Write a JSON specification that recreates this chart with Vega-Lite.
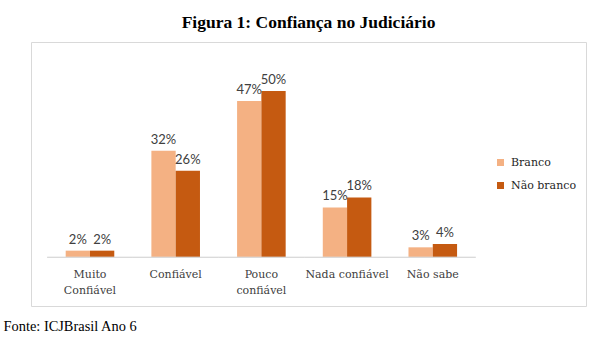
{
  "$schema": "https://vega.github.io/schema/vega-lite/v6.json",
  "autosize": {"type": "none"},
  "padding": {"left": 31, "top": 42, "right": 14, "bottom": 32},
  "width": 555,
  "height": 264,
  "background": "white",
  "config": {"view": {"stroke": "#d9d9d9", "strokeWidth": 1}},
  "title": {
    "text": "Figura 1: Confiança no Judiciário",
    "font": "Liberation Serif",
    "fontSize": 17.5,
    "fontWeight": "bold",
    "color": "#000000",
    "anchor": "middle",
    "offset": 11
  },
  "datasets": {
    "main": [
      {"categoria": "Muito Confiável", "grupo": "Branco", "valor": 0.02},
      {"categoria": "Muito Confiável", "grupo": "Não branco", "valor": 0.02},
      {"categoria": "Confiável", "grupo": "Branco", "valor": 0.32},
      {"categoria": "Confiável", "grupo": "Não branco", "valor": 0.26},
      {"categoria": "Pouco confiável", "grupo": "Branco", "valor": 0.47},
      {"categoria": "Pouco confiável", "grupo": "Não branco", "valor": 0.50},
      {"categoria": "Nada confiável", "grupo": "Branco", "valor": 0.15},
      {"categoria": "Nada confiável", "grupo": "Não branco", "valor": 0.18},
      {"categoria": "Não sabe", "grupo": "Branco", "valor": 0.03},
      {"categoria": "Não sabe", "grupo": "Não branco", "valor": 0.04}
    ],
    "cats": [
      {"categoria": "Muito Confiável"},
      {"categoria": "Confiável"},
      {"categoria": "Pouco confiável"},
      {"categoria": "Nada confiável"},
      {"categoria": "Não sabe"}
    ]
  },
  "layer": [
    {
      "data": {"name": "main"},
      "encoding": {
        "x": {
          "field": "categoria",
          "type": "nominal",
          "sort": null,
          "scale": {"paddingInner": 0.433, "paddingOuter": 0.9546, "align": 0.212},
          "axis": {
            "orient": "bottom",
            "offset": -48.7,
            "domain": false,
            "ticks": false,
            "labelAngle": 0,
            "labelFont": "DejaVu Serif",
            "labelFontSize": 11,
            "labelColor": "#404040",
            "labelPadding": 11,
            "labelLineHeight": 16,
            "labelExpr": "datum.value == 'Muito Confiável' ? ['Muito', 'Confiável'] : datum.value == 'Pouco confiável' ? ['Pouco', 'confiável'] : datum.value",
            "title": "Fonte: ICJBrasil Ano 6",
            "titleFont": "Liberation Serif",
            "titleFontSize": 14.4,
            "titleFontWeight": "normal",
            "titleColor": "#000000",
            "titleAnchor": null,
            "titleAlign": "left",
            "titleBaseline": "alphabetic",
            "titleX": -28,
            "titleY": 73.4
          }
        },
        "xOffset": {
          "field": "grupo",
          "type": "nominal",
          "scale": {"paddingInner": 0, "paddingOuter": 0}
        },
        "y": {
          "field": "valor",
          "type": "quantitative",
          "scale": {"domain": [-0.1464, 0.6473], "nice": false, "zero": false},
          "axis": null
        }
      },
      "layer": [
        {
          "mark": {"type": "bar"},
          "encoding": {
            "color": {
              "field": "grupo",
              "type": "nominal",
              "scale": {"domain": ["Branco", "Não branco"], "range": ["#F4B183", "#C55A11"]},
              "legend": {
                "title": null,
                "orient": "none",
                "legendX": 464,
                "legendY": 115,
                "symbolType": "square",
                "symbolSize": 49,
                "symbolStrokeWidth": 0,
                "labelFont": "DejaVu Serif",
                "labelFontSize": 11,
                "labelColor": "#262626",
                "rowPadding": 11,
                "labelOffset": 5
              }
            }
          }
        },
        {
          "mark": {"type": "text", "baseline": "alphabetic", "dy": -7, "font": "Lato", "fontSize": 13, "color": "#404040"},
          "encoding": {
            "text": {"field": "valor", "type": "quantitative", "format": ".0%"}
          }
        }
      ]
    },
    {
      "data": {"name": "cats"},
      "mark": {"type": "rect", "fill": null, "stroke": "#d9d9d9", "strokeWidth": 1},
      "encoding": {
        "x": {
          "field": "categoria",
          "type": "nominal",
          "sort": null,
          "scale": {"paddingInner": 0, "paddingOuter": 0.738, "align": 0.128},
          "axis": null
        },
        "y": {"datum": 0, "type": "quantitative"},
        "y2": {"datum": 0}
      }
    }
  ],
  "resolve": {"scale": {"x": "independent"}}
}
